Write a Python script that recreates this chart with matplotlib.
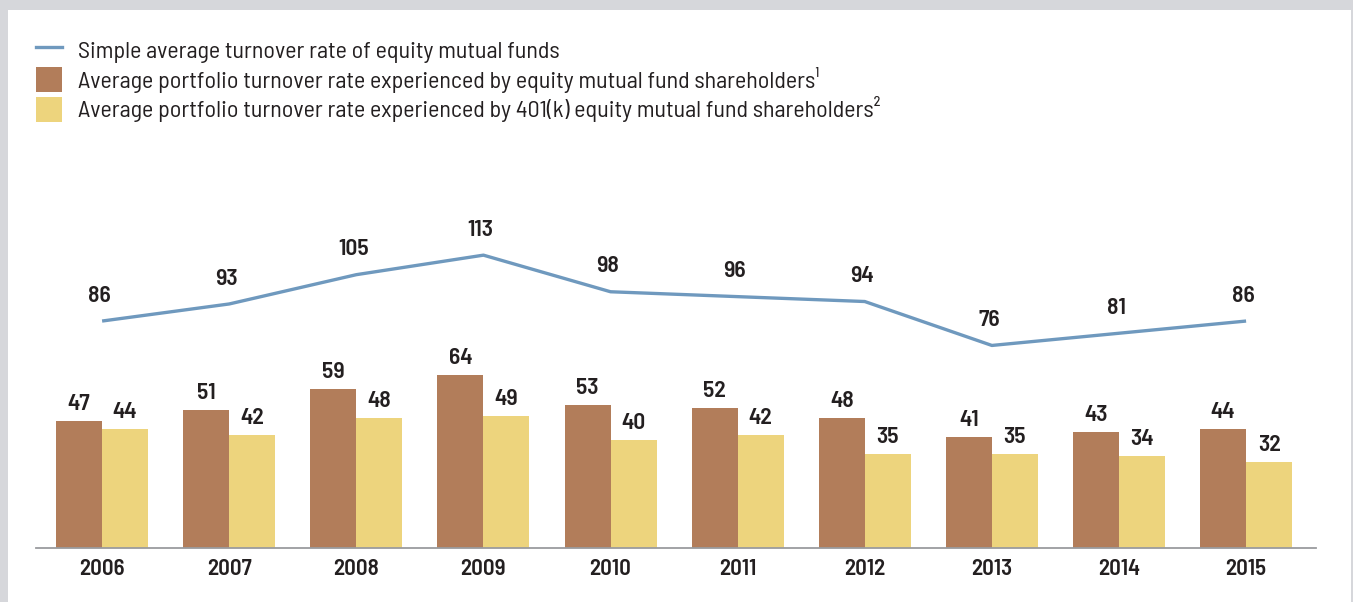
import matplotlib

matplotlib.use("Agg")
import matplotlib.pyplot as plt
from matplotlib.lines import Line2D
from matplotlib.patches import Rectangle

YEARS = ["2006", "2007", "2008", "2009", "2010", "2011", "2012", "2013", "2014", "2015"]
SIMPLE_AVG = [86, 93, 105, 113, 98, 96, 94, 76, 81, 86]
SHAREHOLDERS = [47, 51, 59, 64, 53, 52, 48, 41, 43, 44]
SHAREHOLDERS_401K = [44, 42, 48, 49, 40, 42, 35, 35, 34, 32]

LINE_COLOR = "#6f99be"
BROWN = "#b27d5a"
YELLOW = "#edd47d"
TEXT = "#231f20"
FONT = ["Barlow Semi Condensed", "DejaVu Sans"]

plt.rcParams.update({"font.family": FONT})

W, H = 1353, 602
fig = plt.figure(figsize=(W / 100, H / 100), dpi=100, facecolor="#d6d7db")
fig.patches.append(
    Rectangle(
        (8 / W, 0),
        (1351 - 8) / W,
        (H - 10) / H,
        transform=fig.transFigure,
        facecolor="white",
        edgecolor="none",
        zorder=-5,
    )
)

# axes: baseline at y=548 px, top at y=200 px
ax = fig.add_axes((36 / W, (H - 548) / H, 1280 / W, 348 / H))
ax.set_facecolor("none")
ax.set_xlim(-0.52, 9.55)
ax.set_ylim(0, 348 / 2.70)

x = list(range(len(YEARS)))
bw = 0.362
ax.bar([i - bw / 2 for i in x], SHAREHOLDERS, width=bw, color=BROWN, edgecolor="none", zorder=2)
ax.bar([i + bw / 2 for i in x], SHAREHOLDERS_401K, width=bw, color=YELLOW, edgecolor="none", zorder=2)
for i, v in zip(x, SHAREHOLDERS):
    ax.annotate(str(v), (i - bw / 2, v), xytext=(0, 5), textcoords="offset points",
                ha="center", va="bottom", fontsize=17, fontweight="semibold", color=TEXT)
for i, v in zip(x, SHAREHOLDERS_401K):
    ax.annotate(str(v), (i + bw / 2, v), xytext=(0, 5), textcoords="offset points",
                ha="center", va="bottom", fontsize=17, fontweight="semibold", color=TEXT)

for side in ("top", "right", "left"):
    ax.spines[side].set_visible(False)
ax.spines["bottom"].set_color("#9a9b9e")
ax.spines["bottom"].set_linewidth(1.3)
ax.set_yticks([])
ax.set_xticks(x, labels=YEARS)
ax.tick_params(axis="x", length=0, pad=8, labelsize=16.5, labelcolor=TEXT)
for lab in ax.get_xticklabels():
    lab.set_fontweight("semibold")

# line on its own scale
ax2 = ax.twinx()
ax2.set_ylim(-7.0, 135.6)
ax2.axis("off")
ax2.plot(x, SIMPLE_AVG, color=LINE_COLOR, linewidth=2.4, solid_capstyle="butt", zorder=3)
for i, v in zip(x, SIMPLE_AVG):
    ax2.annotate(str(v), (i, v), xytext=(-2, 11), textcoords="offset points",
                 ha="center", va="bottom", fontsize=17, fontweight="semibold", color=TEXT)

handles = (
    Line2D([0], [0], color=LINE_COLOR, linewidth=2.4),
    Rectangle((0, 0), 1, 1, facecolor=BROWN, edgecolor="none"),
    Rectangle((0, 0), 1, 1, facecolor=YELLOW, edgecolor="none"),
)
labels = (
    "Simple average turnover rate of equity mutual funds",
    "Average portfolio turnover rate experienced by equity mutual fund shareholders\u00b9",
    "Average portfolio turnover rate experienced by 401(k) equity mutual fund shareholders\u00b2",
)
leg = fig.legend(
    handles,
    labels,
    loc="upper left",
    bbox_to_anchor=(36 / W, 1 - 37 / H),
    frameon=False,
    fontsize=17.3,
    handlelength=1.08,
    handleheight=1.25,
    handletextpad=0.65,
    labelspacing=0.16,
    borderaxespad=0,
    borderpad=0,
)
for t in leg.get_texts():
    t.set_color(TEXT)

fig.savefig("out.png", dpi=100, facecolor=fig.get_facecolor())
